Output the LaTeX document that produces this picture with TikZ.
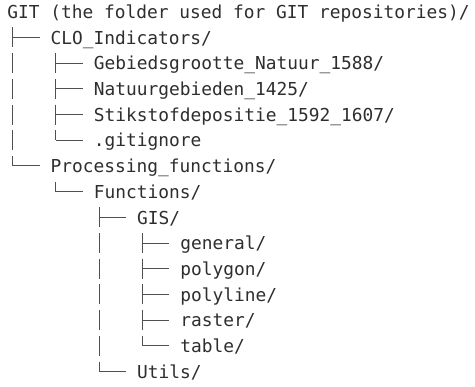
\documentclass[tikz,border=0pt]{standalone}
\usepackage{fontspec}
\usetikzlibrary{calc}
\newfontfamily\treefont{DejaVu Sans Mono}
\definecolor{txt}{HTML}{2E2E2E}
\definecolor{ln}{HTML}{505050}
\tikzset{
  entry/.style={anchor=base west, inner sep=0pt, text=txt, font={\treefont\fontsize{17.85pt}{20pt}\selectfont}},
  vbar/.style={draw=ln, line width=1pt, dash pattern=on 20pt off 5.7pt},
  hbar/.style={draw=ln, line width=1pt}
}
\newcommand{\treebranch}[2]{%
  \coordinate (pc-#2) at ($(#1.base west)+(5.4,-9)$);
  \coordinate (cc-#2) at ($(#2.base west)+(-10.8,6.7)$);
  \draw[vbar] (pc-#2) -- (pc-#2 |- cc-#2);
  \draw[hbar] (pc-#2 |- cc-#2) -- (cc-#2);
}
\begin{document}
\begin{tikzpicture}[x=1pt,y=1pt]
\useasboundingbox (0,0) rectangle (475,-387);
\node[entry] (git)   at (7.3,-18.5) {GIT (the folder used for GIT repositories)/};
\node[entry] (clo)   at (50.5,-44.2) {CLO\_Indicators/};
\node[entry] (geb)   at (93.7,-69.9) {Gebiedsgrootte\_Natuur\_1588/};
\node[entry] (nat)   at (93.7,-95.6) {Natuurgebieden\_1425/};
\node[entry] (stik)  at (93.7,-121.3) {Stikstofdepositie\_1592\_1607/};
\node[entry] (gign)  at (93.7,-147.0) {.gitignore};
\node[entry] (proc)  at (50.5,-172.7) {Processing\_functions/};
\node[entry] (func)  at (93.7,-198.4) {Functions/};
\node[entry] (gis)   at (136.9,-224.1) {GIS/};
\node[entry] (gen)   at (180.1,-249.8) {general/};
\node[entry] (pgon)  at (180.1,-275.5) {polygon/};
\node[entry] (pline) at (180.1,-301.2) {polyline/};
\node[entry] (rast)  at (180.1,-326.9) {raster/};
\node[entry] (tab)   at (180.1,-352.6) {table/};
\node[entry] (util)  at (136.9,-378.3) {Utils/};
\treebranch{git}{clo}
\treebranch{git}{proc}
\treebranch{clo}{geb}
\treebranch{clo}{nat}
\treebranch{clo}{stik}
\treebranch{clo}{gign}
\treebranch{proc}{func}
\treebranch{func}{gis}
\treebranch{func}{util}
\treebranch{gis}{gen}
\treebranch{gis}{pgon}
\treebranch{gis}{pline}
\treebranch{gis}{rast}
\treebranch{gis}{tab}
\end{tikzpicture}
\end{document}
